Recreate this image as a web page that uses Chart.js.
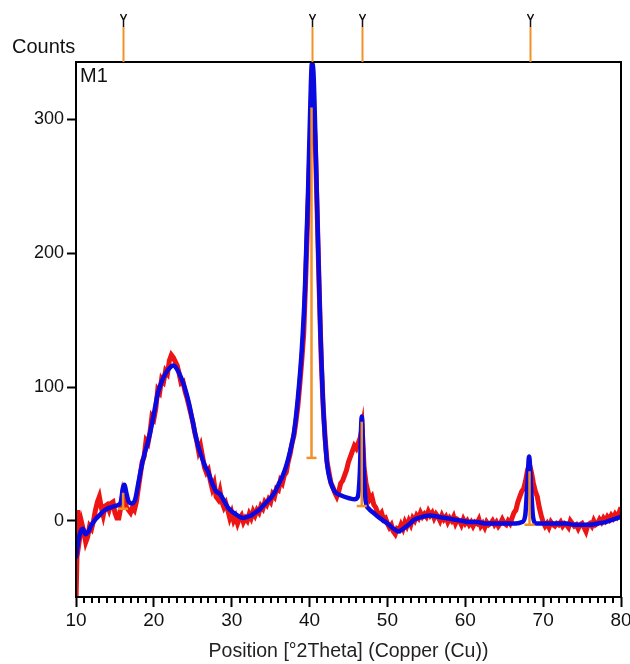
<!DOCTYPE html>
<html>
<head>
<meta charset="utf-8">
<title>XRD pattern M1</title>
<script src="https://cdn.jsdelivr.net/npm/chart.js@4.4.1/dist/chart.umd.min.js"></script>
<style>
  html, body { margin: 0; padding: 0; background: #fff; }
  #xrd { display: block; }
</style>
</head>
<body>
<canvas id="xrd" width="630" height="664"></canvas>
<script>
// measured scan, one value every 0.25 deg from 10 to 80 deg 2theta
const scanStart = 10;
const scanStep = 0.25;
const measuredCounts = [
  -60, 8, -12, -2, -8, -16, -12, -4, -6, 0, 8, 14, 18, 10, 4, 11, 12, 8, 13, 14,
  6, 2, 2, 10, 20, 14, 10, 8, 6, 10, 8, 14, 24, 34, 44, 48, 60, 58, 66, 78,
  76, 84, 98, 96, 106, 104, 112, 110, 120, 124, 122, 119, 116, 110, 103, 104, 97, 92, 86, 80,
  74, 66, 60, 52, 56, 48, 40, 36, 38, 30, 24, 28, 18, 16, 22, 14, 10, 13, 8, 2,
  6, 0, 3, -2, 2, 4, -1, 2, 0, 5, 2, 7, 4, 8, 6, 11, 9, 14, 12, 16,
  14, 20, 18, 24, 23, 30, 28, 34, 36, 44, 50, 58, 64, 74, 86, 102, 120, 140, 180, 225,
  270, 305, 310, 280, 225, 170, 120, 85, 62, 44, 36, 28, 25, 21, 18, 22, 28, 30, 34, 38,
  44, 48, 52, 56, 54, 58, 62, 70, 40, 28, 22, 16, 18, 12, 10, 6, 4, 6, 1, 2,
  -2, -5, -3, -8, -10, -6, -7, -3, -6, -1, -4, 0, -3, 2, 0, 4, 2, 6, 3, 5,
  3, 7, 4, 6, 2, 5, 3, 0, 4, 1, 3, -1, 2, 0, 3, -2, 1, 0, -3, 1,
  -2, 0, -3, -1, -4, -1, -2, 1, -4, -2, -5, -1, -3, -2, 0, -3, -1, -4, -2, 1,
  -2, -3, 0, -2, 2, 6, 8, 14, 18, 22, 24, 30, 38, 42, 36, 28, 22, 18, 10, 4,
  -1, -4, -2, -5, -1, -3, -4, -2, -3, -1, -4, -2, -3, -5, 0, -2, -4, -3, -6, -3,
  -2, -5, -8, -3, -2, -4, 0, -3, -2, 1, -1, 2, 0, 3, 1, 4, 2, 5, 3, 6,
  10
];

// fitted profile
const fitTheta = [
  10.0, 10.3, 10.6, 10.9, 11.2, 11.6, 12.0, 12.5, 13.0, 13.5, 14.0, 14.5, 15.0, 15.5, 15.8,
  16.0, 16.2, 16.5, 16.8, 17.2, 17.6, 18.0, 18.4, 18.8, 19.2, 19.6, 20.0, 20.5, 21.0, 21.5,
  22.0, 22.5, 23.0, 23.5, 24.0, 24.5, 25.0, 25.5, 26.0, 26.5, 27.0, 27.5, 28.0, 28.5, 29.0,
  29.5, 30.0, 30.5, 31.0, 31.5, 32.0, 32.5, 33.0, 33.5, 34.0, 34.5, 35.0, 35.5, 36.0, 36.5,
  37.0, 37.5, 38.0, 38.5, 39.0, 39.4, 39.8, 40.1, 40.3, 40.5, 40.8, 41.1, 41.4, 41.7, 42.0,
  42.3, 42.7, 43.2, 44.0, 45.0, 45.8, 46.2, 46.45, 46.7, 46.95, 47.2, 47.6, 48.2, 49.0, 50.0,
  50.8, 51.4, 52.0, 52.7, 53.5, 54.5, 55.5, 56.5, 57.5, 58.5, 59.5, 60.5, 61.5, 62.5, 63.5,
  64.5, 65.5, 66.5, 67.3, 67.7, 67.95, 68.2, 68.45, 68.7, 69.1, 70.0, 71.0, 72.0, 73.0, 74.0,
  75.0, 76.0, 77.0, 78.0, 79.0, 79.5, 80.0
];
const fitCounts = [
  -28, -15, -8, -6, -10, -8, -3, 1, 4, 7, 9, 10, 11, 12, 15,
  24, 27, 20, 14, 13, 16, 28, 40, 50, 58, 68, 80, 95, 104, 110,
  114, 116, 113, 107, 99, 88, 74, 60, 50, 42, 36, 28, 22, 20, 15,
  10, 7, 5, 3, 2, 3, 4, 6, 8, 11, 14, 17, 21, 27, 33,
  41, 52, 66, 92, 128, 172, 245, 312, 342, 335, 275, 205, 140, 92, 60,
  40, 29, 22, 19, 17, 16, 18, 35, 78, 40, 15, 9, 6, 2, -2,
  -6, -8, -6, -3, 1, 3, 4, 3, 2, 1, 0, -1, -1, -2, -2,
  -2, -2, -2, -1, 4, 25, 48, 25, 3, -2, -2, -2, -2, -2, -3,
  -3, -3, -2, -1, 1, 2, 3
];

// reference pattern lines
const refTheta = [16.05, 40.25, 46.7, 68.25];
const refTop = [21, 309, 74, 37];
const refBase = [9, 47, 11, -3];

const xTicks = [10, 20, 30, 40, 50, 60, 70, 80];
const yTicks = [0, 100, 200, 300];

const RED = '#ee1414';
const BLUE = '#0a0ae0';
const ORANGE = '#f29226';
const FONT = '"Liberation Sans", Arial, sans-serif';

const measured = measuredCounts.map((c, i) => ({ x: scanStart + i * scanStep, y: c }));
const fitted = fitTheta.map((t, i) => ({ x: t, y: fitCounts[i] }));

// sticks: top, base, gap for each reference line
const sticks = [];
refTheta.forEach((t, i) => {
  sticks.push({ x: t, y: refTop[i] });
  sticks.push({ x: t, y: refBase[i] });
  sticks.push({ x: t, y: null });
});

const decor = {
  id: 'decor',
  afterDatasetsDraw(chart) {
    const { ctx, chartArea: a, scales: { x } } = chart;
    ctx.save();

    // plot frame
    ctx.strokeStyle = '#000';
    ctx.lineWidth = 2;
    ctx.strokeRect(a.left, a.top, a.right - a.left, a.bottom - a.top);

    // minor ticks every degree
    ctx.beginPath();
    for (let v = 11; v < 80; v++) {
      if (v % 10 === 0) continue;
      const px = Math.round(x.getPixelForValue(v));
      ctx.moveTo(px, a.bottom);
      ctx.lineTo(px, a.bottom + 6);
    }
    ctx.stroke();

    // reference line markers above the frame
    refTheta.forEach(t => {
      const px = Math.round(x.getPixelForValue(t)) + 0.5;
      ctx.strokeStyle = ORANGE;
      ctx.lineWidth = 2;
      ctx.beginPath();
      ctx.moveTo(px, a.top);
      ctx.lineTo(px, a.top - 35);
      ctx.stroke();
      ctx.strokeStyle = '#111';
      ctx.lineWidth = 1.5;
      ctx.beginPath();
      ctx.moveTo(px - 3, a.top - 48);
      ctx.lineTo(px, a.top - 42);
      ctx.lineTo(px + 3, a.top - 48);
      ctx.moveTo(px, a.top - 42);
      ctx.lineTo(px, a.top - 35);
      ctx.stroke();
    });

    ctx.fillStyle = '#111';
    ctx.font = '20px ' + FONT;
    ctx.textBaseline = 'middle';
    ctx.textAlign = 'left';
    ctx.fillText('Counts', 12, 47);
    ctx.fillText('M1', a.left + 4, a.top + 14);
    ctx.restore();
  }
};

new Chart(document.getElementById('xrd'), {
  type: 'line',
  data: {
    datasets: [
      {
        label: 'Reference',
        data: sticks,
        borderColor: ORANGE,
        borderWidth: 2.5,
        spanGaps: false,
        pointStyle: 'line',
        pointRadius: ctx => (ctx.dataIndex % 3 === 1 ? 5 : 0),
        pointBorderColor: ORANGE,
        pointBorderWidth: 2.5,
        order: 0
      },
      {
        label: 'Calculated',
        data: fitted,
        borderColor: BLUE,
        borderWidth: 4.5,
        cubicInterpolationMode: 'monotone',
        pointRadius: 0,
        order: 1
      },
      {
        label: 'Observed',
        data: measured,
        borderColor: RED,
        borderWidth: 5,
        pointRadius: 0,
        order: 2
      }
    ]
  },
  options: {
    responsive: false,
    animation: false,
    layout: { padding: { top: 62, right: 9, left: 0, bottom: 0 } },
    plugins: { legend: { display: false }, tooltip: { enabled: false } },
    scales: {
      x: {
        type: 'linear',
        min: 10,
        max: 80,
        afterBuildTicks: s => { s.ticks = xTicks.map(v => ({ value: v })); },
        afterFit: s => { s.height = 67; s.paddingLeft = 0; s.paddingRight = 0; },
        border: { display: false },
        grid: { drawOnChartArea: false, tickLength: 10, tickWidth: 2, tickColor: '#000' },
        ticks: { color: '#111', padding: 2, maxRotation: 0, font: { family: FONT, size: 19 } },
        title: {
          display: true,
          text: 'Position [°2Theta] (Copper (Cu))',
          color: '#222',
          padding: { top: 0, bottom: 1 },
          font: { family: FONT, size: 19.5 }
        }
      },
      y: {
        min: -57,
        max: 343,
        afterBuildTicks: s => { s.ticks = yTicks.map(v => ({ value: v })); },
        afterFit: s => { s.width = 76; },
        border: { display: false },
        grid: { drawOnChartArea: false, tickLength: 9, tickWidth: 2, tickColor: '#000' },
        ticks: { color: '#111', padding: 3, font: { family: FONT, size: 18 } }
      }
    }
  },
  plugins: [decor]
});
</script>
</body>
</html>
